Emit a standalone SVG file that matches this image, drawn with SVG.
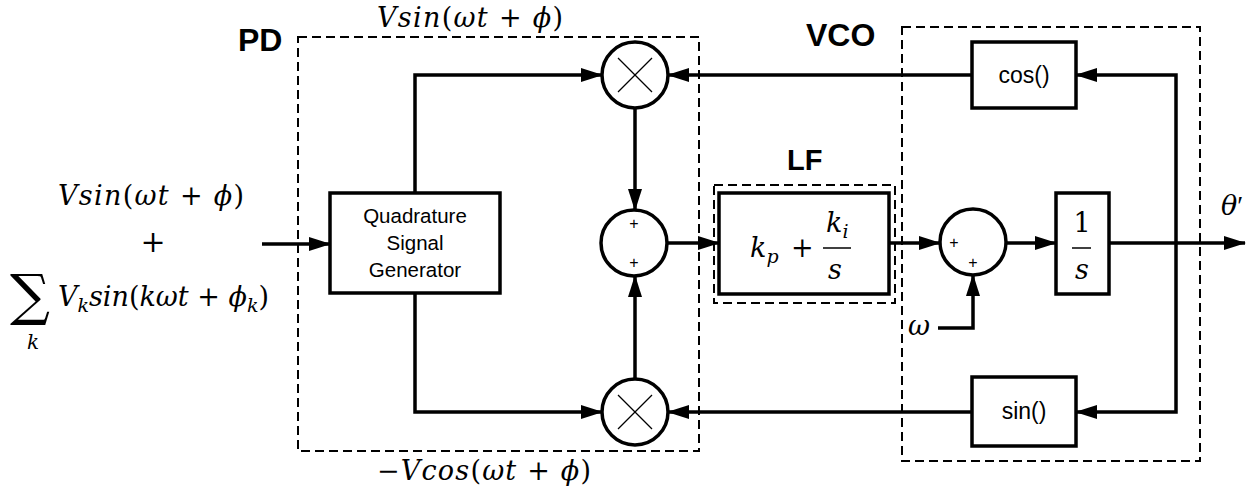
<svg xmlns="http://www.w3.org/2000/svg" width="1257" height="492" viewBox="0 0 1257 492">
<defs>
<marker id="ah" markerWidth="22" markerHeight="14" refX="21" refY="7" orient="auto" markerUnits="userSpaceOnUse">
<path d="M0,0 L22,7 L0,14 z" fill="#000"/>
</marker>
<style>
.dash{fill:none;stroke:#000;stroke-width:2;stroke-dasharray:9,5}
.blk{fill:#fff;stroke:#000;stroke-width:3.5}
.wire{fill:none;stroke:#000;stroke-width:3.5;marker-end:url(#ah)}
.thin{stroke:#000;stroke-width:1.2}
.lbl{font-family:"Liberation Sans",Arial,sans-serif;font-weight:bold;fill:#000}
.txt{font-family:"Liberation Sans",Arial,sans-serif;fill:#000}
.m{font-family:"DejaVu Serif","Liberation Serif",serif;font-style:italic;fill:#000}
.u{font-style:normal}
.pl{font-family:"Liberation Sans",Arial,sans-serif;font-size:16px;text-anchor:middle;fill:#000}
</style>
</defs>
<rect width="1257" height="492" fill="#fff"/>

<g id="groups">
<rect id="pd-box" class="dash" x="298" y="37" width="401" height="414"/>
<rect id="vco-box" class="dash" x="902" y="27" width="298" height="434"/>
<rect id="lf-box" class="dash" x="714" y="185" width="181" height="118"/>
<text class="lbl" x="238" y="51" font-size="32">PD</text>
<text class="lbl" x="806" y="46" font-size="32">VCO</text>
<text class="lbl" x="787" y="170" font-size="29">LF</text>
</g>

<g id="connectors">
<path class="wire" d="M262,244 H330"/>
<path class="wire" d="M415,193 V75 H602"/>
<path class="wire" d="M415,293 V412 H602"/>
<path class="wire" d="M635,108 V210"/>
<path class="wire" d="M635,379 V276"/>
<path class="wire" d="M667,243 H719"/>
<path class="wire" d="M972,75 H668"/>
<path class="wire" d="M972,412 H668"/>
<path class="wire" d="M889,243 H940"/>
<path class="wire" d="M1006,243 H1056"/>
<path class="wire" d="M1109,243 H1245"/>
<path class="wire" d="M1176,243 V75 H1076"/>
<path class="wire" d="M1176,243 V412 H1076"/>
<path class="wire" d="M938,328 H973 V275"/>
</g>

<g id="qsg">
<rect class="blk" x="330" y="193" width="170" height="100"/>
<text class="txt" font-size="20.5" text-anchor="middle"><tspan x="415" y="223">Quadrature</tspan><tspan x="415" y="250">Signal</tspan><tspan x="415" y="277">Generator</tspan></text>
</g>

<g id="mult-top">
<circle class="blk" cx="635" cy="75" r="33"/>
<line class="thin" x1="618" y1="58" x2="652" y2="92"/>
<line class="thin" x1="652" y1="58" x2="618" y2="92"/>
</g>

<g id="mult-bottom">
<circle class="blk" cx="635" cy="412" r="33"/>
<line class="thin" x1="618" y1="395" x2="652" y2="429"/>
<line class="thin" x1="652" y1="395" x2="618" y2="429"/>
</g>

<g id="sum1">
<circle class="blk" cx="634" cy="243" r="33"/>
<text class="pl" x="634" y="229">+</text>
<text class="pl" x="634" y="268">+</text>
</g>

<g id="lf">
<rect class="blk" x="719" y="193" width="170" height="101"/>
<text class="m" font-size="27" x="750" y="257">k<tspan font-size="19" dy="6">p</tspan></text>
<text class="m u" font-size="27" x="791" y="257">+</text>
<text class="m" font-size="27" x="826" y="232">k<tspan font-size="19" dy="6">i</tspan></text>
<line x1="823" y1="248" x2="851" y2="248" stroke="#000" stroke-width="1.5"/>
<text class="m" font-size="27" x="828" y="279">s</text>
</g>

<g id="sum2">
<circle class="blk" cx="973" cy="242" r="33"/>
<text class="pl" x="954" y="248">+</text>
<text class="pl" x="973" y="268">+</text>
</g>

<g id="integrator">
<rect class="blk" x="1056" y="193" width="53" height="101"/>
<text class="m u" font-size="27" x="1082" y="232" text-anchor="middle">1</text>
<line x1="1072" y1="248" x2="1091" y2="248" stroke="#000" stroke-width="1.5"/>
<text class="m" font-size="27" x="1082" y="279" text-anchor="middle">s</text>
</g>

<g id="cos">
<rect class="blk" x="972" y="42" width="104" height="66"/>
<text class="txt" font-size="23" x="1024" y="83" text-anchor="middle">cos()</text>
</g>

<g id="sin">
<rect class="blk" x="972" y="377" width="104" height="69"/>
<text class="txt" font-size="23" x="1024" y="419" text-anchor="middle">sin()</text>
</g>

<g id="labels">
<text class="m" font-size="27" x="377" y="27" textLength="186" lengthAdjust="spacing">Vsin<tspan class="u">(</tspan>ωt <tspan class="u">+</tspan> ϕ<tspan class="u">)</tspan></text>
<text class="m" font-size="27" x="58" y="205" textLength="186" lengthAdjust="spacing">Vsin<tspan class="u">(</tspan>ωt <tspan class="u">+</tspan> ϕ<tspan class="u">)</tspan></text>
<text class="m u" font-size="30" x="153" y="252" text-anchor="middle">+</text>
<text class="m u" font-size="56" x="10" y="314">∑</text>
<text class="m" font-size="20" x="27" y="349">k</text>
<text class="m" font-size="27" x="58" y="306">V<tspan font-size="19" dy="6">k</tspan><tspan dy="-6">sin</tspan><tspan class="u">(</tspan>kωt <tspan class="u">+</tspan> ϕ<tspan font-size="19" dy="6">k</tspan><tspan class="u" dy="-6">)</tspan></text>
<text class="m" font-size="27" x="377" y="480" textLength="214" lengthAdjust="spacing"><tspan class="u">−</tspan>Vcos<tspan class="u">(</tspan>ωt <tspan class="u">+</tspan> ϕ<tspan class="u">)</tspan></text>
<text class="m" font-size="27" x="1221" y="215">θ<tspan class="u" font-family="Liberation Serif">′</tspan></text>
<text class="m" font-size="27" x="908" y="335">ω</text>
</g>
</svg>
